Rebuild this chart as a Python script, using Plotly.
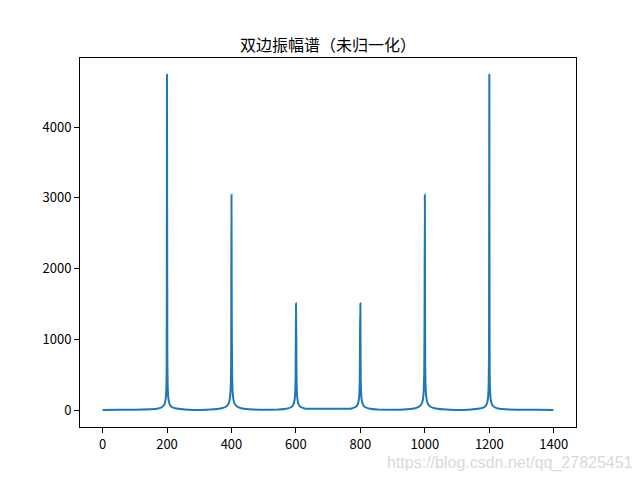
import plotly.graph_objects as go

# frequency bin index
bins = [0, 50, 100, 150, 170, 185, 192, 196, 198, 199, 200, 201, 202, 204, 208, 215, 230,
        255, 300, 345, 370, 385, 392, 396, 398, 399, 400, 401, 402, 404, 408, 415, 430,
        455, 500, 545, 570, 585, 592, 596, 598, 599, 600, 601, 602, 604, 608, 615, 630,
        660, 700, 740, 770, 785, 792, 796, 798, 799, 800, 801, 802, 804, 808, 815, 830,
        855, 900, 945, 970, 985, 992, 996, 998, 999, 1000, 1001, 1002, 1004, 1008, 1015, 1030,
        1055, 1100, 1145, 1170, 1185, 1192, 1196, 1198, 1199, 1200, 1201, 1202, 1204, 1208, 1215, 1230,
        1250, 1300, 1350, 1399]
# two-sided amplitude (not normalised)
amplitude = [3, 5, 8, 13, 22, 45, 83, 163, 316, 592, 4740, 790, 364, 175, 86, 45, 23,
             12, 4, 13, 29, 57, 105, 203, 380, 677, 3045, 1218, 509, 235, 113, 59, 29,
             15, 6, 11, 21, 42, 79, 148, 269, 456, 1510, 1142, 417, 184, 85, 45, 22,
             22, 22, 22, 22, 45, 85, 184, 417, 1142, 1510, 456, 269, 148, 79, 42, 21,
             11, 6, 15, 29, 59, 113, 235, 509, 1218, 3045, 677, 380, 203, 105, 57, 29,
             13, 4, 12, 23, 45, 86, 175, 364, 790, 4740, 592, 316, 163, 83, 45, 22,
             13, 8, 5, 3]

title_text = "双边振幅谱（未归一化）"
watermark = "https://blog.csdn.net/qq_27825451"

fig = go.Figure()
fig.add_trace(go.Scatter(x=bins, y=amplitude, mode="lines",
                         line=dict(color="#1f77b4", width=2, shape="spline", smoothing=0.3),
                         showlegend=False))

axis_common = dict(showline=True, linecolor="black", linewidth=1, mirror=True,
                   ticks="outside", ticklen=5, tickcolor="black", showgrid=False,
                   zeroline=False, tickfont=dict(family="Noto Sans CJK SC", size=13, color="black"))

fig.update_layout(
    width=632, height=472,
    margin=dict(l=72, r=64, t=50, b=53),
    paper_bgcolor="white", plot_bgcolor="white",
    title=dict(text=title_text, x=0.5, xanchor="center", xref="paper",
               y=1, yref="paper", yanchor="bottom", pad=dict(b=7),
               font=dict(family="Noto Sans CJK SC", size=16, color="black")),
    xaxis=dict(range=[-69.95, 1468.95], tickmode="linear", tick0=0, dtick=200, **axis_common),
    yaxis=dict(range=[-237, 4977], tickmode="linear", tick0=0, dtick=1000, **axis_common),
    annotations=[dict(text=watermark, xref="paper", yref="paper", x=1.119, y=-0.098,
                      xanchor="right", yanchor="middle", showarrow=False,
                      font=dict(family="Liberation Sans", size=16, color="#d9d9d9"))],
)

fig.write_html("out.html")
